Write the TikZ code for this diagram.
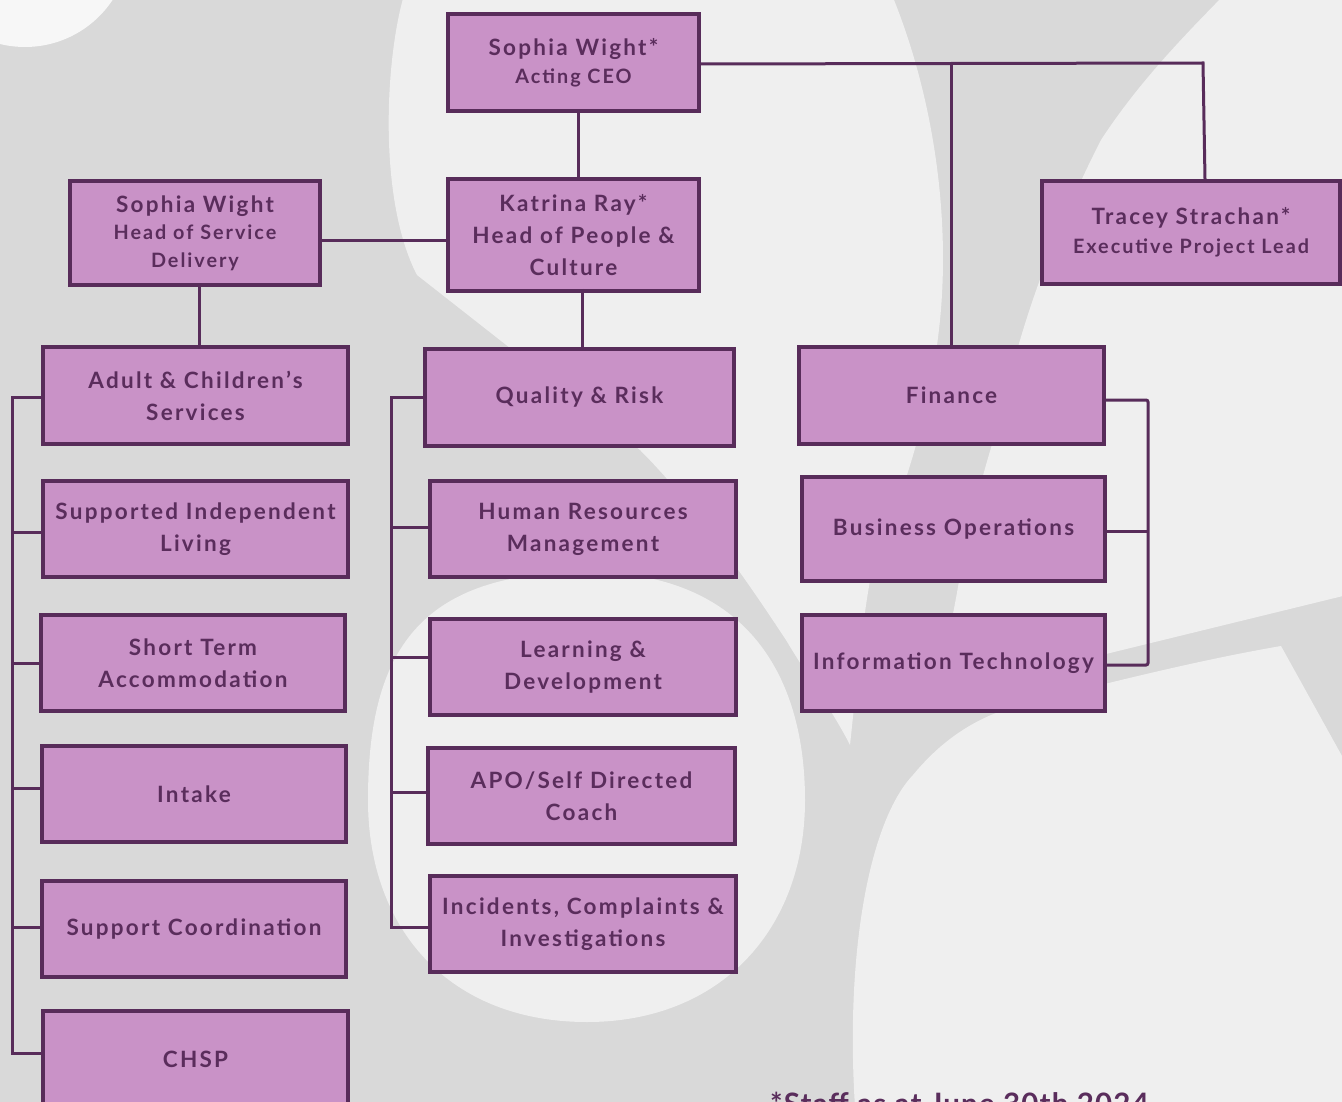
\documentclass[tikz,border=0pt]{standalone}
\usepackage{fontspec}
\setmainfont{Lato}
\newfontfamily\boxfont{Lato}[LetterSpace=10]
\newfontfamily\notefont{Lato}[LetterSpace=4]
\definecolor{bgdark}{HTML}{D9D9D9}
\definecolor{bglight}{HTML}{EFEFEF}
\definecolor{bgwhite}{HTML}{F7F7F7}
\definecolor{boxfill}{HTML}{C992C7}
\definecolor{boxline}{HTML}{582C5A}
\definecolor{boxtext}{HTML}{5A2D5C}
\tikzset{
  orgbox/.style={draw=boxline, line width=4pt, fill=boxfill, text=boxtext, inner sep=0pt, align=center,
    font=\boxfont\bfseries\fontsize{22.5}{32}\selectfont},
  conn/.style={draw=boxline, line width=3pt},
}
\newcommand{\smalltxt}{\fontsize{19.8}{26}\selectfont}
\begin{document}
\begin{tikzpicture}[x=1pt,y=-1pt]
\clip (0,0) rectangle (1342,1102);
% background
\fill[bgdark] (0,0) rectangle (1342,1102);
\fill[bgwhite] (25,-58) circle (105);
\fill[bglight] (404,-5) .. controls (385,60) and (378,200) .. (417,275)
  -- (640,450) .. controls (690,500) and (740,570) .. (786,640)
  .. controls (810,680) and (835,715) .. (850,745)
  .. controls (856,690) and (862,620) .. (872,570)
  .. controls (900,500) and (930,420) .. (940,320)
  .. controls (950,220) and (935,100) .. (892,-5) -- cycle;
\fill[bglight] (368,800) .. controls (368,650) and (420,572) .. (587,572)
  .. controls (750,572) and (805,680) .. (805,800)
  .. controls (805,930) and (720,1022) .. (587,1022)
  .. controls (450,1022) and (368,930) .. (368,800) -- cycle;
\fill[bglight] (1224,-5) -- (1347,-5) -- (1347,595) -- (1110,653)
  .. controls (1050,668) and (990,685) .. (935,700)
  .. controls (945,650) and (955,610) .. (962,562)
  .. controls (975,500) and (990,450) .. (999,422)
  .. controls (1015,350) and (1040,260) .. (1101,140)
  .. controls (1140,80) and (1190,30) .. (1224,-5) -- cycle;
\fill[bglight] (855,1107) .. controls (845,950) and (870,820) .. (913,775)
  .. controls (950,730) and (990,712) .. (1028,703)
  .. controls (1120,680) and (1200,660) .. (1281,646)
  -- (1347,765) -- (1347,1107) -- cycle;

% nodes
\node[orgbox, minimum width=251pt, minimum height=97pt] (ceo) at (573.5,62.5)
  {Sophia Wight*\\[-4pt]{\smalltxt Acting CEO}};
\node[orgbox, minimum width=250pt, minimum height=104pt] (hsd) at (195,233)
  {Sophia Wight\\[-5pt]{\smalltxt Head of Service}\\[-4pt]{\smalltxt Delivery}};
\node[orgbox, minimum width=251pt, minimum height=112pt] (hpc) at (573.5,235)
  {Katrina Ray*\\Head of People \&\\Culture};
\node[orgbox, minimum width=298pt, minimum height=103pt] (epl) at (1191,232.5)
  {Tracey Strachan*\\[-3pt]{\smalltxt Executive Project Lead}};

\node[orgbox, minimum width=305pt, minimum height=97pt] (fin) at (951.5,395.5) {Finance};
\node[orgbox, minimum width=303pt, minimum height=104pt] (bus) at (953.5,529) {Business Operations};
\node[orgbox, minimum width=303pt, minimum height=96pt] (it) at (953.5,663) {Information Technology};

\node[orgbox, minimum width=309pt, minimum height=97pt] (qr) at (579.5,397.5) {Quality \& Risk};
\node[orgbox, minimum width=306pt, minimum height=96pt] (hr) at (583,529) {Human Resources\\Management};
\node[orgbox, minimum width=306pt, minimum height=96pt] (ld) at (583,667) {Learning \&\\Development};
\node[orgbox, minimum width=307pt, minimum height=96pt] (apo) at (581.5,796) {APO/Self Directed\\Coach};
\node[orgbox, minimum width=306pt, minimum height=96pt] (icp) at (583,924) {Incidents, Complaints \&\\Investigations};

\node[orgbox, minimum width=305pt, minimum height=97pt] (acs) at (195.5,395.5) {Adult \& Children’s\\Services};
\node[orgbox, minimum width=305pt, minimum height=96pt] (sil) at (195.5,529) {Supported Independent\\Living};
\node[orgbox, minimum width=304pt, minimum height=96pt] (sta) at (193,663) {Short Term\\Accommodation};
\node[orgbox, minimum width=304pt, minimum height=96pt] (intake) at (194,794) {Intake};
\node[orgbox, minimum width=304pt, minimum height=96pt] (sc) at (194,929) {Support Coordination};
\node[orgbox, minimum width=305pt, minimum height=97pt] (chsp) at (195.5,1059.5) {CHSP};

\node[anchor=base west, text=boxtext, inner sep=0pt, font=\notefont\bfseries\fontsize{29.5}{32}\selectfont] (note) at (770,1114)
  {*Staff as at June 30th 2024};

% connectors
\coordinate (j1) at (1203,63);
\coordinate (j2) at (951.5,63);
\draw[conn] ([yshift=-1.5pt]ceo.east) -- (j1) -- ([xshift=2pt]j1 |- epl.north);
\draw[conn] (j2) -- (fin.north);
\draw[conn] ([xshift=4.5pt]ceo.south) -- ([xshift=4.5pt]ceo.south |- hpc.north);
\draw[conn] ([yshift=-8pt]hsd.east) -- ([yshift=-8pt]hsd.east -| hpc.west);
\draw[conn] ([xshift=4pt]hsd.south) -- ([xshift=4pt]hsd.south |- acs.north);
\draw[conn] ([xshift=8.5pt,yshift=4pt]hpc.south) -- ([xshift=8.5pt]hpc.south |- qr.north);

% left tree
\coordinate (L1) at (12,397);
\coordinate (L2) at (12,532);
\coordinate (L3) at (12,663);
\coordinate (L4) at (12,788);
\coordinate (L5) at (12,927);
\coordinate (L6) at (12,1053);
\draw[conn] (L1 -| acs.west) -- (L1) -- (L6) -- (L6 -| chsp.west);
\draw[conn] (L2) -- (L2 -| sil.west);
\draw[conn] (L3) -- (L3 -| sta.west);
\draw[conn] (L4) -- (L4 -| intake.west);
\draw[conn] (L5) -- (L5 -| sc.west);

% middle tree
\coordinate (M1) at (391,397);
\coordinate (M2) at (391,527);
\coordinate (M3) at (391,657);
\coordinate (M4) at (391,792);
\coordinate (M5) at (391,927);
\draw[conn] (M1 -| qr.west) -- (M1) -- (M5) -- (M5 -| icp.west);
\draw[conn] (M2) -- (M2 -| hr.west);
\draw[conn] (M3) -- (M3 -| ld.west);
\draw[conn] (M4) -- (M4 -| apo.west);

% right tree
\coordinate (R1) at (1148,400);
\coordinate (R2) at (1148,531);
\coordinate (R3) at (1148,665);
\draw[conn, rounded corners=2pt] (R1 -| fin.east) -- (R1) -- (R3) -- (R3 -| it.east);
\draw[conn] (R2) -- (R2 -| bus.east);
\end{tikzpicture}
\end{document}
